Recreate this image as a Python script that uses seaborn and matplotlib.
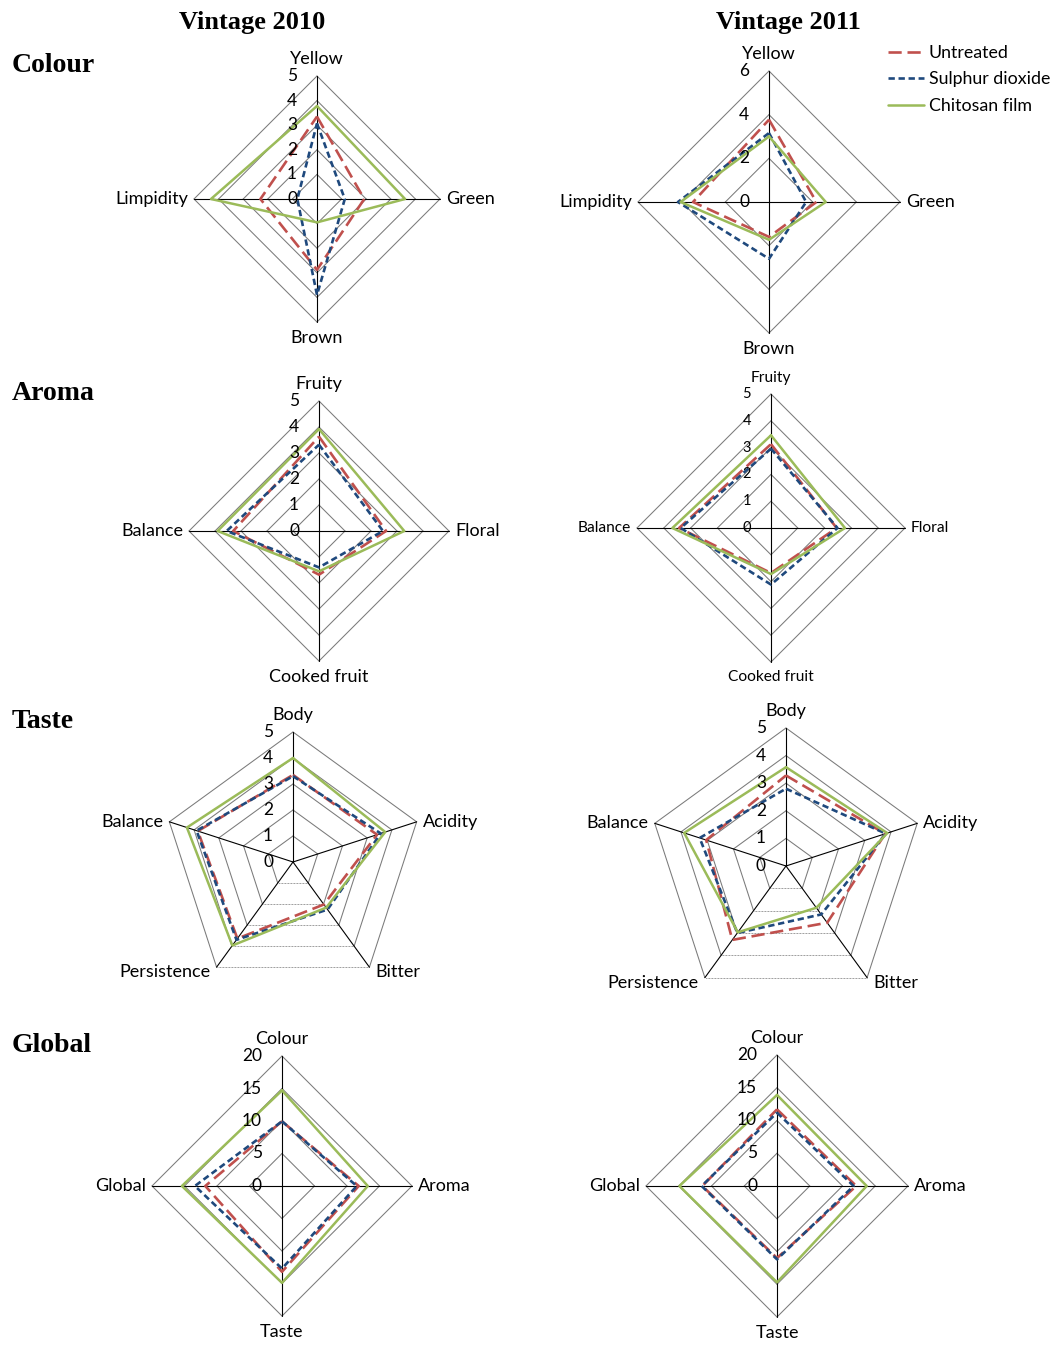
import numpy as np
import pandas as pd
import matplotlib
matplotlib.use("Agg")
import matplotlib.pyplot as plt
import seaborn as sns

# ---- sensory panel scores -------------------------------------------------
series = ["Untreated", "Sulphur dioxide", "Chitosan film"]

colour_attrs = ["Yellow", "Green", "Brown", "Limpidity"]
colour_2010_untreated = [3.35, 1.92, 2.88, 2.3]
colour_2010_so2 = [3.07, 1.13, 3.9, 0.8]
colour_2010_chitosan = [3.78, 3.58, 0.95, 4.31]
colour_2011_untreated = [3.77, 2.17, 1.6, 3.48]
colour_2011_so2 = [3.16, 1.7, 2.6, 4.17]
colour_2011_chitosan = [3.0, 2.6, 1.73, 4.05]

aroma_attrs = ["Fruity", "Floral", "Cooked fruit", "Balance"]
aroma_2010_untreated = [3.63, 2.58, 1.68, 3.3]
aroma_2010_so2 = [3.32, 2.46, 1.4, 3.55]
aroma_2010_chitosan = [3.92, 3.28, 1.55, 3.9]
aroma_2011_untreated = [3.13, 2.45, 1.68, 3.43]
aroma_2011_so2 = [2.96, 2.48, 2.11, 3.37]
aroma_2011_chitosan = [3.46, 2.76, 1.72, 3.68]

taste_attrs = ["Body", "Acidity", "Bitter", "Persistence", "Balance"]
taste_2010_untreated = [3.35, 3.4, 2.02, 3.64, 3.85]
taste_2010_so2 = [3.3, 3.55, 2.26, 3.7, 3.9]
taste_2010_chitosan = [4.0, 3.73, 2.17, 3.97, 4.29]
taste_2011_untreated = [3.28, 3.78, 2.54, 3.31, 3.04]
taste_2011_so2 = [2.8, 3.8, 2.17, 3.0, 3.29]
taste_2011_chitosan = [3.58, 3.86, 1.87, 2.97, 3.88]

global_attrs = ["Colour", "Aroma", "Taste", "Global"]
global_2010_untreated = [9.95, 11.8, 13.2, 11.8]
global_2010_so2 = [9.95, 11.5, 12.7, 13.4]
global_2010_chitosan = [14.7, 13.2, 14.9, 15.4]
global_2011_untreated = [11.7, 12.1, 11.0, 11.4]
global_2011_so2 = [11.2, 11.7, 11.2, 11.5]
global_2011_chitosan = [13.9, 13.7, 14.7, 14.9]

colour_ticks_2010 = [0, 1, 2, 3, 4, 5]
colour_ticks_2011 = [0, 2, 4, 6]
five_point_ticks = [0, 1, 2, 3, 4, 5]
global_ticks = [0, 5, 10, 15, 20]

vintages = ["Vintage 2010", "Vintage 2011"]
sections = ["Colour", "Aroma", "Taste", "Global"]

# ---- styling --------------------------------------------------------------
sns.set_theme(style="white")
plt.rcParams["font.family"] = ["Lato", "DejaVu Sans"]
plt.rcParams["text.color"] = "black"

W, H = 1059, 1345
fig = plt.figure(figsize=(W / 100, H / 100), dpi=100)
fig.patch.set_facecolor("white")

line_styles = {
    "Untreated": dict(color="#C0504D", lw=1.9, linestyle=(0, (5, 2.2))),
    "Sulphur dioxide": dict(color="#1F497D", lw=1.9, linestyle=(0, (2.4, 1.4))),
    "Chitosan film": dict(color="#9BBB59", lw=1.8, linestyle="-"),
}


def radar(cx, cy, rpx, attrs, ticks, data, lab_fs=13, tick_fs=12.5):
    vmax = ticks[-1]
    half = 1.75 * rpx
    ax = fig.add_axes([(cx - half) / W, 1 - (cy + half) / H, 2 * half / W, 2 * half / H])
    ax.set_axis_off()
    px = vmax / rpx  # data units per pixel

    n = len(attrs)
    ang = np.deg2rad(90 - 360 * np.arange(n) / n)
    ca, sa = np.cos(ang), np.sin(ang)

    # polygon rings
    for t in ticks[1:]:
        xs, ys = t * ca, t * sa
        for i in range(n):
            j = (i + 1) % n
            dotted = n == 5 and i == 2
            ax.plot([xs[i], xs[j]], [ys[i], ys[j]], color="#7a7a7a",
                    lw=0.6 if dotted else 0.75,
                    linestyle=(0, (1, 0.8)) if dotted else "-", zorder=1)
    # spokes
    for i in range(n):
        ax.plot([0, vmax * ca[i]], [0, vmax * sa[i]], color="black", lw=0.8, zorder=1)

    # series
    for name, vals in zip(series, data):
        v = np.array(vals + vals[:1])
        a = np.concatenate([ang, ang[:1]])
        df = pd.DataFrame({"x": v * np.cos(a), "y": v * np.sin(a)})
        sns.lineplot(data=df, x="x", y="y", sort=False, estimator=None, ax=ax,
                     label=name, zorder=3, **line_styles[name])

    # value labels along the vertical spoke
    for t in ticks:
        ax.text(-20 * px, t, f"{t}", ha="right", va="center", fontsize=tick_fs,
                color="black", zorder=4)

    # category labels
    for i, name in enumerate(attrs):
        x, y = vmax * ca[i], vmax * sa[i]
        if abs(ca[i]) < 0.1:
            ha = "center"
            va = "bottom" if sa[i] > 0 else "top"
            y += (9 if sa[i] > 0 else -8) * px
        else:
            ha = "left" if ca[i] > 0 else "right"
            x += (6 if ca[i] > 0 else -6) * px
            va = "center"
            if sa[i] < -0.1:
                y -= 5 * px
        ax.text(x, y, name, ha=ha, va=va, fontsize=lab_fs, color="black")

    lim = vmax * half / rpx
    ax.set_xlim(-lim, lim)
    ax.set_ylim(-lim, lim)
    leg = ax.get_legend()
    if leg is not None:
        leg.remove()
    return ax


radar(317, 199, 123, colour_attrs, colour_ticks_2010,
      [colour_2010_untreated, colour_2010_so2, colour_2010_chitosan])
radar(769, 202, 131, colour_attrs, colour_ticks_2011,
      [colour_2011_untreated, colour_2011_so2, colour_2011_chitosan])
radar(319, 531, 130, aroma_attrs, five_point_ticks,
      [aroma_2010_untreated, aroma_2010_so2, aroma_2010_chitosan])
radar(771, 528, 134, aroma_attrs, five_point_ticks,
      [aroma_2011_untreated, aroma_2011_so2, aroma_2011_chitosan], lab_fs=11.2, tick_fs=10.5)
radar(293, 862, 130, taste_attrs, five_point_ticks,
      [taste_2010_untreated, taste_2010_so2, taste_2010_chitosan])
radar(786, 866, 138, taste_attrs, five_point_ticks,
      [taste_2011_untreated, taste_2011_so2, taste_2011_chitosan])
radar(282, 1186, 130, global_attrs, global_ticks,
      [global_2010_untreated, global_2010_so2, global_2010_chitosan])
radar(777, 1186, 131, global_attrs, global_ticks,
      [global_2011_untreated, global_2011_so2, global_2011_chitosan])

# legend
handles = [plt.Line2D([], [], **line_styles[s]) for s in series]
fig.legend(handles, series, loc="upper left", bbox_to_anchor=(881 / W, 1 - 38 / H),
           frameon=False, fontsize=12.8, handlelength=2.0, handletextpad=0.3,
           labelspacing=0.58, borderaxespad=0)

# column and row headings
serif = ["Liberation Serif", "DejaVu Serif"]
for x, txt in zip([252, 788], vintages):
    fig.text(x / W, 1 - 22 / H, txt, ha="center", va="center", fontsize=19,
             fontweight="bold", family=serif, color="black")
for y, txt in zip([65, 394, 722, 1046], sections):
    fig.text(12 / W, 1 - y / H, txt, ha="left", va="center", fontsize=20,
             fontweight="bold", family=serif, color="black")

fig.savefig("out.png", dpi=100, facecolor="white")
